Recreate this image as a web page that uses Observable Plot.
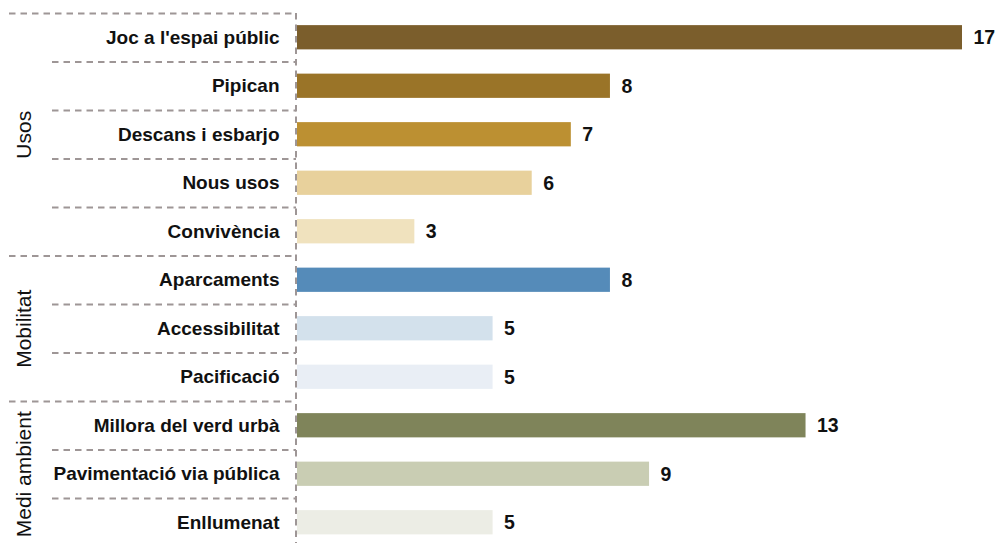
<!DOCTYPE html>
<html><head><meta charset="utf-8">
<script src="https://cdn.jsdelivr.net/npm/d3@7"></script>
<script src="https://cdn.jsdelivr.net/npm/@observablehq/plot@0.6"></script>
<style>body{margin:0;background:#fff} svg{overflow:visible}</style>
</head><body><div id="chart"></div>
<script>
const categories = ["Joc a l'espai públic","Pipican","Descans i esbarjo","Nous usos","Convivència","Aparcaments","Accessibilitat","Pacificació","Millora del verd urbà","Pavimentació via pública","Enllumenat"];
const values = [17,8,7,6,3,8,5,5,13,9,5];
const groups = ["Usos","Usos","Usos","Usos","Usos","Mobilitat","Mobilitat","Mobilitat","Medi ambient","Medi ambient","Medi ambient"];
const colors = ["#7b5e2c","#9a7428","#bc9032","#e8d19c","#f0e2be","#558bb9","#d3e1ec","#e9eef5","#7f845a","#c9cdb3","#ecede5"];
const groupNames = ["Usos","Mobilitat","Medi ambient"];

// layout
const W = 997, H = 543, TOP = 13, STEP = 48.5;
const X0 = 297, XMAXPX = 962, XMAX = 17;
const xAt = px => (px - X0) / (XMAXPX - X0) * XMAX;

const data = categories.map((c, i) => ({cat: c, value: values[i], group: groups[i], color: colors[i]}));
const seps = data.map((d, i) => ({cat: d.cat, major: i === 0 || groups[i] !== groups[i - 1]}));
const groupRows = groupNames.map(g => {
  const rows = data.filter(d => d.group === g);
  return {name: g, cat: rows[Math.floor(rows.length / 2)].cat};
});

const dash = {stroke: "#9e9696", strokeWidth: 2, strokeDasharray: "6.5,5"};

const chart = Plot.plot({
  width: W, height: H,
  marginLeft: X0, marginRight: W - XMAXPX, marginTop: TOP, marginBottom: 0,
  style: {fontFamily: "'Liberation Sans', Arial, sans-serif", color: "#111", background: "#fff"},
  x: {domain: [0, XMAX], axis: null},
  y: {type: "band", domain: categories, range: [TOP, TOP + STEP * categories.length], paddingInner: 0.5, paddingOuter: 0.25, round: false, axis: null},
  color: {type: "identity"},
  marks: [
    Plot.barX(data, {x1: 0, x2: "value", y: "cat", fill: "color"}),
    Plot.ruleY(seps.filter(d => d.major), {y: "cat", x1: xAt(9), x2: xAt(296), dy: -STEP / 2, ...dash}),
    Plot.ruleY(seps.filter(d => !d.major), {y: "cat", x1: xAt(52), x2: xAt(296), dy: -STEP / 2, ...dash}),
    Plot.ruleX([0], {dx: -1.5, ...dash}),
    Plot.text(data, {x: 0, y: "cat", text: "cat", textAnchor: "end", dx: -18, fontSize: 19, fontWeight: "bold", fill: "#111"}),
    Plot.text(data, {x: "value", y: "cat", text: d => String(d.value), textAnchor: "start", dx: 11, fontSize: 19.5, fontWeight: "bold", fill: "#111"}),
    Plot.text(groupRows, {x: xAt(23.5), y: "cat", text: "name", rotate: -90, textAnchor: "middle", fontSize: 21, fill: "#111"})
  ]
});
document.getElementById("chart").append(chart);
</script>
</body></html>
